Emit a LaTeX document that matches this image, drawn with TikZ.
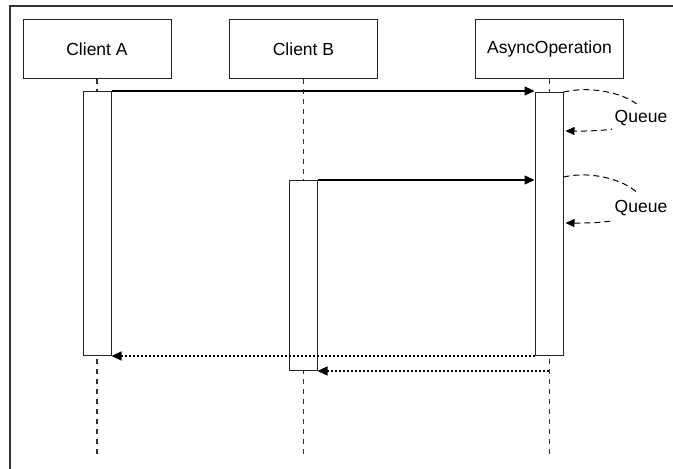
\documentclass[tikz,border=0pt]{standalone}
\usepackage{fontspec}
\setmainfont{Liberation Sans}
\usepackage{tikz}
\usetikzlibrary{positioning, arrows.meta, calc}
\definecolor{frameLine}{HTML}{333333}
\definecolor{boxLine}{HTML}{222222}
\definecolor{lifeLine}{HTML}{333333}
\newcommand{\seqfont}{\fontsize{17.5}{21}\selectfont}

\begin{document}
\begin{tikzpicture}[x=1pt, y=-1pt, hdr/.style={draw=boxLine, fill=white, line width=1pt, minimum width=148pt, minimum height=59pt, inner sep=0pt, font=\seqfont}, bar/.style={draw=boxLine, fill=white, line width=1pt, minimum width=28pt, inner sep=0pt, anchor=north}, life/.style={draw=lifeLine, line width=1.4pt, dash pattern=on 5pt off 5pt}, msg/.style={draw=black, line width=1.3pt, -{Triangle[length=10pt, width=9pt]}}, ret/.style={draw=black, line width=1.3pt, dash pattern=on 2pt off 2pt, -{Triangle[length=10pt, width=9pt]}}, selfq/.style={draw=black, line width=1pt, dash pattern=on 6pt off 4pt, -{Triangle[length=9pt, width=8pt]}}, qlbl/.style={fill=white, inner xsep=3pt, inner ysep=7pt, font=\seqfont}]
\useasboundingbox (0,0) rectangle (673,469);
\draw[frameLine, line width=1.5pt] (10,469) -- (10,6) -- (673,6);
\node[hdr] (hdA) at (97,49) {Client A};
\node[hdr] (hdB) at (303.5,49) {Client B};
\node[hdr] (hdS) at (549.5,48.5) {AsyncOperation};
\coordinate (bot) at (0,456);
\draw[life] (hdA.south) -- (hdA.south |- bot);
\draw[life] (hdB.south) -- (hdB.south |- bot);
\draw[life] (hdS.south) -- (hdS.south |- bot);
\node[bar, minimum height=264pt] (barA) at (97,91) {};
\node[bar, minimum height=190pt] (barB) at (303,180) {};
\node[bar, minimum height=263pt] (barS) at (549,92) {};
\draw[msg] (barA.north east) -- (barA.north east -| barS.west);
\draw[msg] (barB.north east) -- (barB.north east -| barS.west);
\draw[selfq] (barS.north east) .. controls +(62,-14) and +(135,1) .. ($(barS.north east)+(2,39)$) node[qlbl, pos=0.58, yshift=-6pt] (q1) {Queue};
\draw[selfq] ($(barS.north east)+(0,85)$) .. controls +(62,-14) and +(135,1) .. ($(barS.north east)+(2,131)$) node[qlbl, pos=0.58, yshift=-6pt] (q2) {Queue};
\draw[ret] (barS.south west) -- (barS.south west -| barA.east);
\draw[ret] (barB.south east -| barS.south) -- (barB.south east);
\end{tikzpicture}
\end{document}
